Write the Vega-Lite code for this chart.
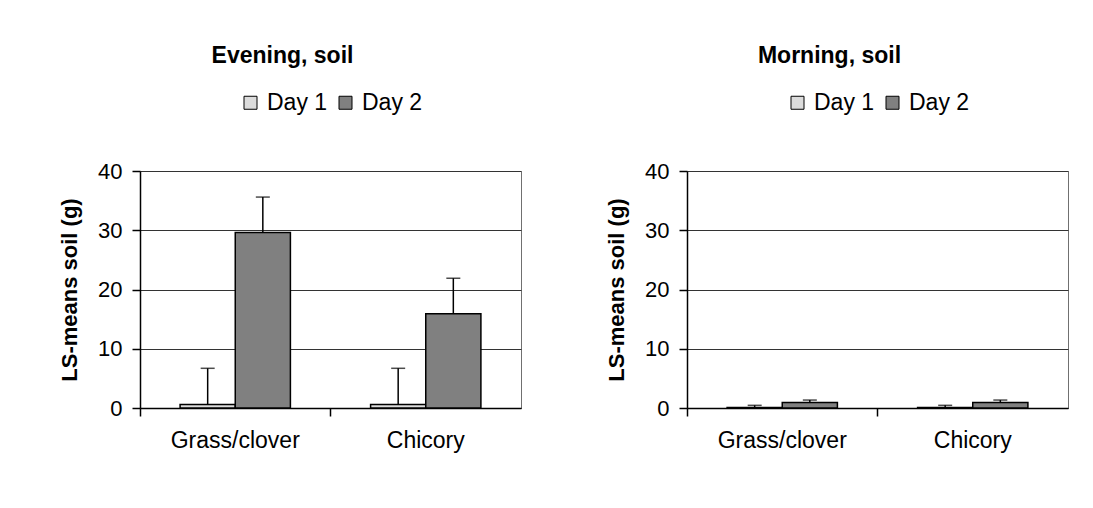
{
  "$schema": "https://vega.github.io/schema/vega-lite/v6.json",
  "autosize": {"type": "pad"},
  "padding": {"left": 58, "top": 44, "right": 0, "bottom": 0},
  "background": "white",
  "data": {
    "values": [
      {"panel": "Evening", "crop": "Grass/clover", "day": "Day 1", "value": 0.6, "upper": 6.7},
      {"panel": "Evening", "crop": "Grass/clover", "day": "Day 2", "value": 29.6, "upper": 35.6},
      {"panel": "Evening", "crop": "Chicory", "day": "Day 1", "value": 0.6, "upper": 6.7},
      {"panel": "Evening", "crop": "Chicory", "day": "Day 2", "value": 15.9, "upper": 21.9},
      {"panel": "Morning", "crop": "Grass/clover", "day": "Day 1", "value": 0.1, "upper": 0.45},
      {"panel": "Morning", "crop": "Grass/clover", "day": "Day 2", "value": 0.94, "upper": 1.34},
      {"panel": "Morning", "crop": "Chicory", "day": "Day 1", "value": 0.1, "upper": 0.45},
      {"panel": "Morning", "crop": "Chicory", "day": "Day 2", "value": 0.94, "upper": 1.34}
    ]
  },
  "spacing": 83,
  "resolve": {"legend": {"color": "independent"}, "scale": {"color": "independent"}},
  "hconcat": [
    {
      "title": {"text": "Evening, soil"},
      "width": 381,
      "height": 237,
      "transform": [{"filter": "datum.panel === 'Evening'"}],
      "encoding": {
        "x": {"field": "crop", "type": "nominal", "sort": ["Grass/clover", "Chicory"], "scale": {"paddingInner": 0, "paddingOuter": 0}, "axis": {"title": null}},
        "xOffset": {"field": "day", "type": "nominal", "scale": {"paddingOuter": 0.727, "paddingInner": 0}}
      },
      "layer": [
        {
          "mark": {"type": "bar", "stroke": "black", "strokeWidth": 1.5},
          "encoding": {
            "y": {"field": "value", "type": "quantitative", "scale": {"domain": [0, 40]}, "axis": {"title": "LS-means soil (g)", "values": [0, 10, 20, 30, 40]}},
            "color": {"field": "day", "type": "nominal", "scale": {"domain": ["Day 1", "Day 2"], "range": ["#dcdcdc", "#808080"]}, "legend": {"title": null}}
          }
        },
        {
          "mark": {"type": "rule", "color": "black", "strokeWidth": 1.5},
          "encoding": {"y": {"field": "value", "type": "quantitative"}, "y2": {"field": "upper"}}
        },
        {
          "mark": {"type": "tick", "orient": "horizontal", "color": "black", "thickness": 1.5, "size": 14},
          "encoding": {"y": {"field": "upper", "type": "quantitative"}}
        }
      ]
    },
    {
      "title": {"text": "Morning, soil"},
      "width": 381,
      "height": 237,
      "transform": [{"filter": "datum.panel === 'Morning'"}],
      "encoding": {
        "x": {"field": "crop", "type": "nominal", "sort": ["Grass/clover", "Chicory"], "scale": {"paddingInner": 0, "paddingOuter": 0}, "axis": {"title": null}},
        "xOffset": {"field": "day", "type": "nominal", "scale": {"paddingOuter": 0.727, "paddingInner": 0}}
      },
      "layer": [
        {
          "mark": {"type": "bar", "stroke": "black", "strokeWidth": 1.5},
          "encoding": {
            "y": {"field": "value", "type": "quantitative", "scale": {"domain": [0, 40]}, "axis": {"title": "LS-means soil (g)", "values": [0, 10, 20, 30, 40]}},
            "color": {"field": "day", "type": "nominal", "scale": {"domain": ["Day 1", "Day 2"], "range": ["#dcdcdc", "#808080"]}, "legend": {"title": null}}
          }
        },
        {
          "mark": {"type": "rule", "color": "black", "strokeWidth": 1.5},
          "encoding": {"y": {"field": "value", "type": "quantitative"}, "y2": {"field": "upper"}}
        },
        {
          "mark": {"type": "tick", "orient": "horizontal", "color": "black", "thickness": 1.5, "size": 14},
          "encoding": {"y": {"field": "upper", "type": "quantitative"}}
        }
      ]
    }
  ],
  "config": {
    "font": "Liberation Sans",
    "view": {"stroke": "#707070", "strokeWidth": 1},
    "title": {"fontSize": 23, "fontWeight": "bold", "font": "Liberation Sans", "color": "black", "anchor": "middle", "frame": "group", "dx": -48, "offset": 23},
    "axisX": {"labelAngle": 0, "bandPosition": 0, "labelFontSize": 23, "labelColor": "black", "labelPadding": 13, "tickSize": 8, "tickColor": "black", "tickWidth": 1.5, "domainColor": "black", "domainWidth": 1.5, "grid": false},
    "axisY": {"titleFontSize": 22, "titleFontWeight": "bold", "titleColor": "black", "titlePadding": 16, "labelFontSize": 22, "labelColor": "black", "labelPadding": 10, "tickSize": 8, "tickColor": "black", "tickWidth": 1.5, "domainColor": "black", "domainWidth": 1.5, "grid": true, "gridColor": "#333333", "gridWidth": 1},
    "legend": {"orient": "none", "legendX": 99, "legendY": -80, "direction": "horizontal", "labelFontSize": 23, "labelColor": "black", "symbolType": "square", "symbolSize": 169, "symbolStrokeColor": "black", "symbolStrokeWidth": 1, "labelOffset": 5, "columnPadding": 6}
  }
}
